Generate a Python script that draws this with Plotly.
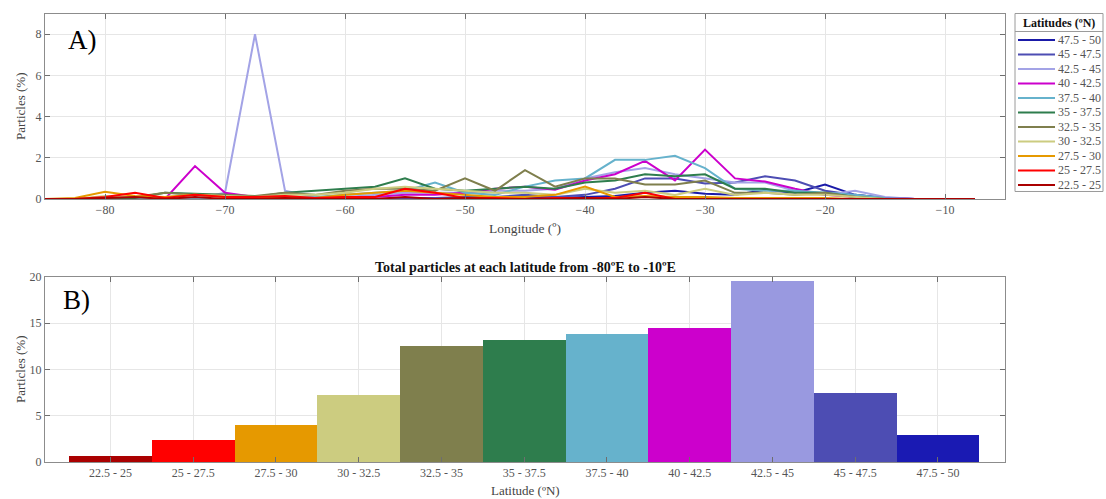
import plotly.graph_objects as go

# ---------------- data ----------------
longitudes = [-85, -82.5, -80, -77.5, -75, -72.5, -70, -67.5, -65, -62.5, -60, -57.5,
              -55, -52.5, -50, -47.5, -45, -42.5, -40, -37.5, -35, -32.5, -30, -27.5,
              -25, -22.5, -20, -17.5, -15, -12.5, -10, -7.5]

lat_47_5_50 = [0, 0, 0, 0, 0, 0, 0, 0, 0, 0, 0, 0, 0, 0, 0.05, 0.05, 0.05, 0.05, 0.1, 0.15, 0.3, 0.4, 0.25, 0.2, 0.45, 0.3, 0.7, 0.2, 0.05, 0, 0, 0]
lat_45_47_5 = [0, 0, 0, 0, 0, 0, 0, 0, 0, 0, 0, 0, 0.05, 0.05, 0.1, 0.1, 0.2, 0.1, 0.2, 0.5, 1.0, 1.0, 0.75, 0.8, 1.1, 0.9, 0.4, 0.2, 0.05, 0, 0, 0]
lat_42_5_45 = [0, 0, 0, 0, 0, 0, 0.3, 8.0, 0.4, 0.1, 0.1, 0.2, 0.3, 0.3, 0.3, 0.4, 0.4, 0.5, 1.0, 1.3, 1.5, 1.2, 1.0, 0.8, 0.8, 0.4, 0.2, 0.4, 0.1, 0, 0, 0]
lat_40_42_5 = [0, 0, 0, 0, 0, 1.6, 0.3, 0.1, 0.1, 0.05, 0.1, 0.1, 0.2, 0.2, 0.3, 0.5, 0.6, 0.45, 0.9, 1.2, 1.85, 0.9, 2.4, 1.0, 0.85, 0.5, 0.2, 0.1, 0.05, 0, 0, 0]
lat_37_5_40 = [0, 0, 0, 0, 0, 0, 0, 0, 0.05, 0.1, 0.2, 0.3, 0.4, 0.8, 0.3, 0.2, 0.6, 0.9, 1.0, 1.9, 1.9, 2.1, 1.5, 0.5, 0.4, 0.4, 0.3, 0.2, 0.05, 0, 0, 0]
lat_35_37_5 = [0, 0, 0, 0.05, 0.3, 0.25, 0.2, 0.1, 0.3, 0.4, 0.5, 0.6, 1.0, 0.5, 0.4, 0.5, 0.6, 0.5, 0.8, 0.9, 1.2, 1.1, 1.2, 0.5, 0.5, 0.3, 0.3, 0.1, 0, 0, 0, 0]
lat_32_5_35 = [0, 0, 0.1, 0.1, 0.3, 0.2, 0.2, 0.15, 0.3, 0.2, 0.4, 0.5, 0.5, 0.4, 1.0, 0.4, 1.4, 0.6, 1.0, 1.0, 0.7, 0.7, 0.9, 0.3, 0.3, 0.2, 0.3, 0.1, 0, 0, 0, 0]
lat_30_32_5 = [0, 0, 0.15, 0.1, 0.1, 0.2, 0.15, 0.1, 0.2, 0.2, 0.3, 0.5, 0.6, 0.5, 0.4, 0.3, 0.3, 0.2, 0.5, 0.3, 0.4, 0.2, 0.5, 0.2, 0.3, 0.2, 0.2, 0.1, 0, 0, 0, 0]
lat_27_5_30 = [0, 0.05, 0.35, 0.15, 0.1, 0.2, 0.1, 0.1, 0.1, 0.05, 0.2, 0.3, 0.4, 0.3, 0.2, 0.1, 0.1, 0.2, 0.6, 0.1, 0.15, 0.1, 0.1, 0.05, 0.05, 0.05, 0.05, 0, 0, 0, 0, 0]
lat_25_27_5 = [0, 0, 0.1, 0.3, 0.05, 0.2, 0.1, 0.1, 0.15, 0.05, 0.1, 0.1, 0.5, 0.3, 0.05, 0.05, 0, 0.05, 0.05, 0.05, 0.3, 0, 0, 0, 0, 0, 0, 0, 0, 0, 0, 0]
lat_22_5_25 = [0, 0, 0.05, 0.1, 0, 0.1, 0, 0, 0.05, 0, 0, 0, 0.1, 0, 0.05, 0, 0, 0, 0.05, 0, 0.1, 0, 0, 0, 0, 0, 0, 0, 0, 0, 0, 0]

# legend / plotting order (top of legend first)
series_names = ["47.5 - 50", "45 - 47.5", "42.5 - 45", "40 - 42.5", "37.5 - 40", "35 - 37.5",
                "32.5 - 35", "30 - 32.5", "27.5 - 30", "25 - 27.5", "22.5 - 25"]
series_values = [lat_47_5_50, lat_45_47_5, lat_42_5_45, lat_40_42_5, lat_37_5_40, lat_35_37_5,
                 lat_32_5_35, lat_30_32_5, lat_27_5_30, lat_25_27_5, lat_22_5_25]
series_colors = ["#1a1aa8", "#4d4db3", "#a3a3e6", "#cc00cc", "#66b2cc", "#2e7d4d",
                 "#7f7f4d", "#cccc80", "#e69900", "#ff0000", "#aa0000"]

# panel B
bar_categories = ["22.5 - 25", "25 - 27.5", "27.5 - 30", "30 - 32.5", "32.5 - 35", "35 - 37.5",
                  "37.5 - 40", "40 - 42.5", "42.5 - 45", "45 - 47.5", "47.5 - 50"]
bar_totals = [0.62, 2.35, 4.05, 7.2, 12.5, 13.15, 13.8, 14.45, 19.55, 7.48, 2.97]
bar_colors = ["#aa0000", "#ff0000", "#e69900", "#cccc80", "#7f7f4d", "#2e7d4d",
              "#66b2cc", "#cc00cc", "#9999e0", "#4d4db3", "#1a1ab3"]

W, H = 1106, 499
SERIF = "Liberation Serif"


def px(x):
    return x / W


def py(y):
    yc = (y - 6) / 0.972
    return 1 - yc / H


def label(x, y, text, size, color, xanchor="center", **kw):
    return dict(x=px(x), y=py(y), text=text, showarrow=False, xref="paper", yref="paper",
                xanchor=xanchor, yanchor="middle", font=dict(family=SERIF, size=size, color=color), **kw)


fig = go.Figure()

for name, vals, col in zip(series_names, series_values, series_colors):
    fig.add_trace(go.Scatter(x=longitudes, y=vals, mode="lines", name=name,
                             line=dict(color=col, width=2), xaxis="x", yaxis="y",
                             showlegend=False))

fig.add_trace(go.Bar(x=bar_categories, y=bar_totals, marker=dict(color=bar_colors, line=dict(width=0)),
                     width=1.0, xaxis="x2", yaxis="y2", showlegend=False))

axis_common = dict(showline=True, linecolor="#8c8c8c", linewidth=1, mirror="ticks",
                   ticks="inside", ticklen=5, tickcolor="#6e6e6e",
                   showgrid=True, gridcolor="#e6e6e6", gridwidth=1, zeroline=False,
                   tickfont=dict(family=SERIF, size=12, color="#555555"))

xdom = [px(45), px(1005)]
fig.update_layout(
    width=W, height=H, margin=dict(l=0, r=0, t=0, b=0),
    paper_bgcolor="white", plot_bgcolor="white", bargap=0,
    xaxis=dict(domain=xdom, anchor="y", range=[-85, -5],
               tickvals=[-80, -70, -60, -50, -40, -30, -20, -10], **axis_common),
    yaxis=dict(domain=[py(198), py(12.7)], anchor="x", range=[0, 9],
               tickvals=[0, 2, 4, 6, 8], **axis_common),
    xaxis2=dict(domain=xdom, anchor="y2", type="category", range=[-0.79, 10.81],
                **axis_common),
    yaxis2=dict(domain=[py(461), py(276)], anchor="x2", range=[0, 20],
                tickvals=[0, 5, 10, 15, 20], **axis_common),
)

ann = []
# axis titles
ann.append(label(525, 228, "Longitude (º)", 13.5, "#444444"))
ann.append(label(525, 490, "Latitude (ºN)", 13, "#444444"))
ann.append(label(21, 105, "Particles (%)", 13, "#444444", textangle=-90))
ann.append(label(21, 368, "Particles (%)", 13, "#444444", textangle=-90))
# panel title
ann.append(label(525, 267, "<b>Total particles at each latitude from -80ºE to -10ºE</b>", 14, "#111111"))
# panel labels
ann.append(label(66, 39, "A)", 27, "black", xanchor="left"))
ann.append(label(61, 299, "B)", 27, "black", xanchor="left"))

# manual legend
shapes = []
lx0, lx1, ly0, ly1 = 1015, 1103, 12.5, 190.5
shapes.append(dict(type="rect", xref="paper", yref="paper", x0=px(lx0), x1=px(lx1),
                   y0=py(ly1), y1=py(ly0), line=dict(color="#9a9a9a", width=1), fillcolor="white"))
shapes.append(dict(type="line", xref="paper", yref="paper", x0=px(lx0), x1=px(lx1),
                   y0=py(30.5), y1=py(30.5), line=dict(color="#9a9a9a", width=1)))
ann.append(label((lx0 + lx1) / 2, 22, "<b>Latitudes (ºN)</b>", 12, "#111111"))
for i, (name, col) in enumerate(zip(series_names, series_colors)):
    yy = 39 + i * 14.5
    shapes.append(dict(type="line", xref="paper", yref="paper", x0=px(1018), x1=px(1055),
                       y0=py(yy), y1=py(yy), line=dict(color=col, width=2)))
    ann.append(label(1056, yy, name, 12, "#555555", xanchor="left"))

fig.update_layout(annotations=ann, shapes=shapes)
fig.write_html("out.html", config={"displayModeBar": False},
               post_script="document.body.style.margin='0';document.body.style.overflow='hidden';")
